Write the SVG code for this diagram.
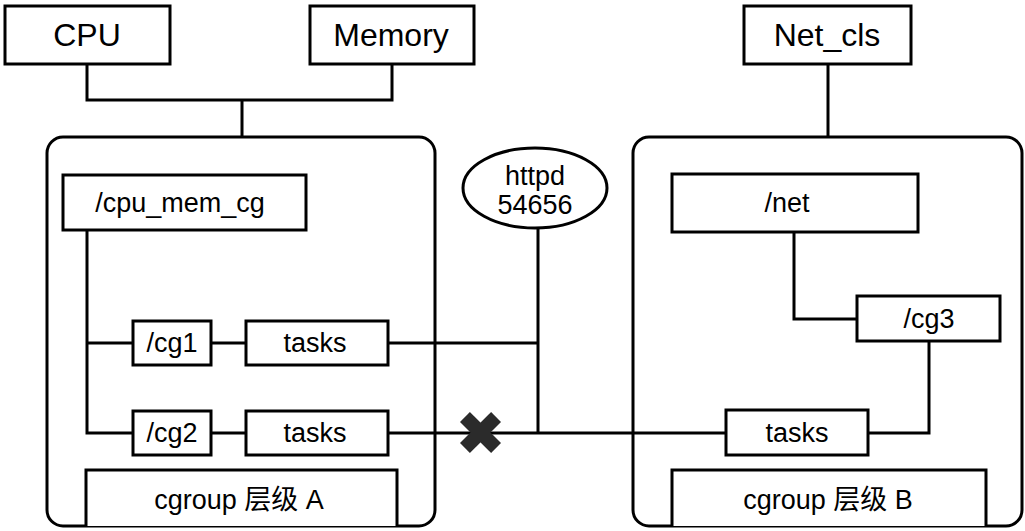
<svg xmlns="http://www.w3.org/2000/svg" width="1025" height="531" viewBox="0 0 1025 531">
<style>
.box{fill:#fff;stroke:#000;stroke-width:3}
.cont{fill:none;stroke:#000;stroke-width:3}
.ln{fill:none;stroke:#000;stroke-width:3}
.t{font-family:"Liberation Sans","Noto Sans CJK SC",Arial,sans-serif;font-size:27px;fill:#000;text-anchor:middle}
.big{font-size:32px}
</style>
<rect width="1025" height="531" fill="#fff"/>
<g id="hierA"><rect class="cont" x="47" y="137" width="388" height="389" rx="16"/></g>
<g id="hierB"><rect class="cont" x="633" y="137" width="389" height="389" rx="16"/></g>
<g id="connectors">
<path class="ln" d="M87,64 V100 H392 V64 M242,100 V137"/>
<path class="ln" d="M828,64 V137"/>
<path class="ln" d="M87,230 V433 H133 M87,343 H133"/>
<path class="ln" d="M211,343 H246 M211,433 H246"/>
<path class="ln" d="M388,343 H538 M538,226 V433 M388,433 H726"/>
<path class="ln" d="M794,232 V319 H857"/>
<path class="ln" d="M929,341 V433 H868"/>
<g id="blocked" transform="translate(480.5,432.5) rotate(45)" fill="#2b2b2b">
<rect x="-22" y="-7" width="44" height="14"/>
<rect x="-7" y="-22" width="14" height="44"/>
</g>
</g>
<g id="cpu"><rect class="box" x="5" y="6" width="165" height="58"/><text class="t big" x="87" y="46">CPU</text></g>
<g id="memory"><rect class="box" x="310" y="6" width="164" height="58"/><text class="t big" x="391" y="46">Memory</text></g>
<g id="netcls"><rect class="box" x="744" y="6" width="167" height="58"/><text class="t big" x="827" y="46">Net_cls</text></g>
<g id="cpumemcg"><rect class="box" x="63" y="175" width="243" height="55"/><text class="t" x="180" y="212">/cpu_mem_cg</text></g>
<g id="cg1"><rect class="box" x="133" y="321" width="78" height="44"/><text class="t" x="172" y="352">/cg1</text></g>
<g id="tasks1"><rect class="box" x="246" y="321" width="142" height="44"/><text class="t" x="315" y="352">tasks</text></g>
<g id="cg2"><rect class="box" x="133" y="411" width="78" height="44"/><text class="t" x="172" y="442">/cg2</text></g>
<g id="tasks2"><rect class="box" x="246" y="411" width="142" height="44"/><text class="t" x="315" y="442">tasks</text></g>
<g id="labelA"><path class="box" d="M86,526 V470 H397 V526"/><text class="t" x="239" y="509">cgroup 层级 A</text></g>
<g id="httpd"><ellipse class="box" cx="535" cy="188" rx="72" ry="40"/><text class="t" x="535" y="185">httpd</text><text class="t" x="535" y="214">54656</text></g>
<g id="net"><rect class="box" x="672" y="174" width="246" height="58"/><text class="t" x="787" y="212">/net</text></g>
<g id="cg3"><rect class="box" x="857" y="296" width="143" height="45"/><text class="t" x="929" y="328">/cg3</text></g>
<g id="tasksB"><rect class="box" x="726" y="410" width="142" height="45"/><text class="t" x="797" y="442">tasks</text></g>
<g id="labelB"><path class="box" d="M672,526 V470 H986 V526"/><text class="t" x="828" y="509">cgroup 层级 B</text></g>
</svg>
